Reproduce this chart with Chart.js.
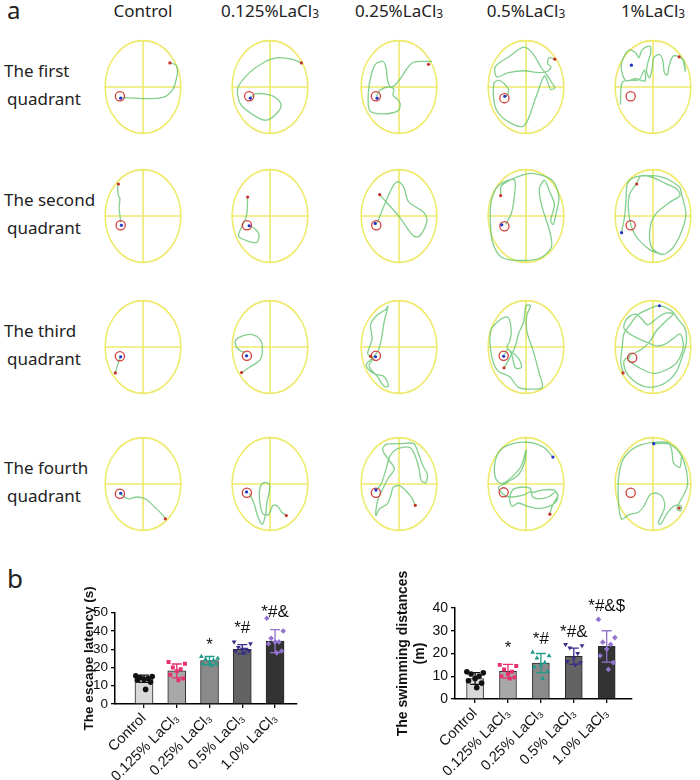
<!DOCTYPE html>
<html>
<head>
<meta charset="utf-8">
<script src="https://cdn.jsdelivr.net/npm/chart.js@4.4.1/dist/chart.umd.min.js"></script>
<style>
  body { margin: 0; background: #fff; width: 700px; height: 780px; position: relative; overflow: hidden;
         font-family: "Noto Sans", "Open Sans", sans-serif; color: #222; }
  .lbl { position: absolute; white-space: nowrap; }
  .hdr { font-size: 17px; line-height: 20px; top: 1px; transform: translateX(-50%); }
  .quad { font-size: 17px; line-height: 28px; left: 4px; }
  .tag { font-size: 24px; line-height: 24px; }
  sub { font-size: 0.7em; vertical-align: -0.08em; }
  canvas { position: absolute; }
</style>
</head>
<body>
<div class="lbl tag" style="left:7px;top:-2px">a</div>
<div class="lbl tag" style="left:7px;top:566px;font-size:26px">b</div>
<script>
// ---------- panel a: swim paths, coordinates in arena units (arena radius = 1) ----------
const doses = ['Control', '0.125%LaCl', '0.25%LaCl', '0.5%LaCl', '1%LaCl'];
const quadrants = ['The first', 'The second', 'The third', 'The fourth'];

const row1Paths = [
  [[0.71,0.52],[0.87,0.47],[0.91,0.31],[0.87,0.14],[0.79,-0.05],[0.55,-0.22],[0.16,-0.25],[-0.24,-0.24],[-0.55,-0.23]],
  [[0.83,0.52],[0.57,0.60],[0.17,0.63],[-0.14,0.54],[-0.54,0.31],[-0.85,-0.02],[-0.77,-0.38],[-0.30,-0.67],[-0.06,-0.71],[0.21,-0.54],[0.29,-0.38],[0.13,-0.22],[-0.14,-0.15],[-0.38,-0.15],[-0.50,-0.22]],
  [[0.87,0.55],[0.41,0.54],[0.25,0.44],[0.06,0.21],[-0.10,0.05],[-0.22,0.0],[-0.30,0.14],[-0.34,0.41],[-0.42,0.55],[-0.61,0.50],[-0.73,0.27],[-0.81,-0.12],[-0.77,-0.51],[-0.42,-0.58],[-0.02,-0.51],[0.03,-0.35],[-0.06,-0.25],[-0.16,-0.18],[-0.14,-0.04],[-0.30,0.0],[-0.50,-0.07],[-0.60,-0.20]],
  [[0.76,0.60],[0.61,0.63],[0.57,0.50],[0.66,0.44],[0.57,0.34],[0.33,0.31],[-0.06,0.35],[-0.46,0.31],[-0.77,0.22],[-0.81,0.44],[-0.42,0.67],[-0.06,0.86],[0.17,0.73],[0.41,0.41],[0.57,0.24],[0.69,0.08],[0.76,-0.02],[0.65,-0.05],[0.49,0.24],[0.25,-0.25],[-0.06,-0.84],[-0.54,-0.71],[-0.81,-0.44],[-0.85,0.08],[-0.69,0.14],[-0.46,-0.05],[-0.50,-0.18],[-0.57,-0.22]],
  [[0.69,0.65],[0.81,0.57],[0.85,0.34],[0.77,0.61],[0.54,0.67],[0.42,0.44],[0.38,0.26],[0.30,0.31],[0.26,0.57],[0.18,0.70],[0.02,0.63],[-0.02,0.41],[-0.09,0.20],[-0.17,0.34],[-0.13,0.54],[-0.06,0.73],[-0.09,0.88],[-0.29,0.80],[-0.37,0.63],[-0.45,0.73],[-0.61,0.80],[-0.76,0.67],[-0.84,0.41],[-0.72,0.14],[-0.45,0.18],[-0.21,0.13],[-0.23,0.37],[-0.37,0.16],[-0.80,0.11],[-0.86,-0.38]]
];
const row2Paths = [
  [[-0.65,0.69],[-0.67,0.61],[-0.65,0.44],[-0.61,0.38],[-0.63,0.18],[-0.61,0.02],[-0.59,-0.14]],
  [[-0.59,0.41],[-0.61,0.05],[-0.67,-0.11],[-0.79,-0.31],[-0.83,-0.44],[-0.59,-0.54],[-0.35,-0.57],[-0.29,-0.41],[-0.39,-0.28],[-0.52,-0.22]],
  [[-0.51,0.46],[0.02,-0.03],[0.37,-0.42],[0.53,-0.44],[0.69,-0.24],[0.74,-0.08],[0.65,0.08],[0.25,0.31],[0.13,0.61],[-0.02,0.74],[-0.14,0.67],[-0.38,0.25],[-0.57,-0.13],[-0.61,-0.18]],
  [[-0.67,0.44],[-0.65,0.65],[-0.43,0.77],[-0.24,0.84],[0.12,0.92],[0.55,0.84],[0.75,0.71],[0.87,0.38],[0.80,0.08],[0.72,-0.18],[0.65,-0.11],[0.75,0.25],[0.63,0.51],[0.49,0.77],[0.35,0.58],[0.43,0.18],[0.63,-0.34],[0.67,-0.67],[0.39,-0.90],[-0.08,-0.96],[-0.63,-0.90],[-0.87,-0.60],[-0.94,-0.14],[-0.91,0.35],[-0.71,0.67],[-0.31,0.78],[-0.31,0.41],[-0.39,0.05],[-0.54,-0.18]],
  [[-0.83,-0.36],[-0.75,-0.01],[-0.71,0.38],[-0.67,0.71],[-0.47,0.84],[-0.08,0.87],[0.24,0.84],[0.51,0.74],[0.71,0.61],[0.75,0.48],[0.87,0.05],[0.75,-0.34],[0.51,-0.70],[0.24,-0.83],[-0.04,-0.67],[-0.08,-0.27],[0.08,0.05],[0.47,0.31],[0.71,0.44],[0.63,0.58],[0.31,0.71],[-0.04,0.84],[-0.31,0.87],[-0.43,0.71],[-0.63,0.44],[-0.63,-0.01],[-0.47,-0.41],[-0.08,-0.73],[0.24,-0.83]]
];
const row3Paths = [
  [[-0.59,-0.21],[-0.67,-0.38],[-0.73,-0.56]],
  [[-0.75,-0.55],[-0.53,-0.43],[-0.26,-0.28],[-0.20,-0.05],[-0.26,0.16],[-0.50,0.27],[-0.76,0.23],[-0.91,0.14],[-0.89,0.01],[-0.79,-0.08],[-0.65,-0.12]],
  [[-0.75,-0.20],[-0.83,-0.14],[-0.71,0.18],[-0.75,0.48],[-0.59,0.68],[-0.35,0.81],[-0.29,0.88],[-0.39,0.55],[-0.47,0.15],[-0.55,-0.08],[-0.71,-0.24],[-0.87,-0.39],[-0.67,-0.57],[-0.39,-0.64],[-0.28,-0.84],[-0.39,-0.85],[-0.57,-0.64],[-0.79,-0.41],[-0.67,-0.24]],
  [[-0.58,-0.45],[-0.43,-0.24],[-0.28,0.02],[-0.20,0.28],[-0.06,0.55],[0.0,0.89],[0.12,0.89],[0.02,0.68],[0.02,0.35],[0.20,-0.11],[0.35,-0.57],[0.43,-0.87],[0.12,-0.91],[-0.20,-0.87],[-0.43,-0.64],[-0.75,-0.51],[-0.91,-0.18],[-0.93,0.35],[-0.67,0.60],[-0.47,0.64],[-0.39,0.35],[-0.43,0.12],[-0.50,-0.01],[-0.20,-0.24],[-0.12,-0.44],[-0.28,-0.45],[-0.37,-0.18],[-0.47,-0.05],[-0.57,-0.16]],
  [[-0.79,-0.56],[-0.85,-0.31],[-0.81,0.02],[-0.77,0.28],[-0.61,0.48],[-0.38,0.71],[-0.06,0.84],[0.17,0.89],[0.49,0.78],[0.65,0.61],[0.84,0.41],[0.88,0.09],[0.76,-0.24],[0.61,-0.54],[0.33,-0.77],[-0.06,-0.87],[-0.38,-0.80],[-0.69,-0.57],[-0.77,-0.31],[-0.61,-0.18],[-0.30,-0.05],[-0.06,0.15],[0.09,0.35],[0.33,0.55],[0.53,0.71],[0.33,0.73],[0.09,0.61],[-0.14,0.48],[-0.30,0.61],[-0.46,0.71],[-0.69,0.61],[-0.77,0.41],[-0.61,0.28],[-0.38,0.18],[-0.02,0.05],[0.09,0.02],[0.29,0.05],[0.53,0.18],[0.72,0.28],[0.80,0.02],[0.65,-0.31],[0.41,-0.47],[0.02,-0.57],[-0.38,-0.44],[-0.65,-0.28],[-0.60,-0.19]]
];
const row4Paths = [
  [[-0.57,-0.23],[-0.39,-0.32],[-0.16,-0.28],[0.08,-0.33],[0.31,-0.50],[0.51,-0.66],[0.59,-0.75]],
  [[-0.55,-0.20],[-0.43,-0.40],[-0.31,-0.73],[-0.20,-0.87],[-0.12,-0.66],[-0.08,-0.40],[-0.02,-0.17],[-0.02,0.0],[-0.16,0.03],[-0.26,-0.07],[-0.28,-0.30],[-0.20,-0.63],[-0.04,-0.66],[0.08,-0.46],[0.20,-0.48],[0.31,-0.61],[0.43,-0.68]],
  [[0.43,-0.46],[0.34,-0.30],[0.16,-0.13],[0.0,-0.03],[-0.16,-0.08],[-0.21,-0.23],[-0.31,-0.43],[-0.51,-0.53],[-0.61,-0.68],[-0.59,-0.46],[-0.53,-0.28],[-0.28,0.13],[-0.12,0.33],[-0.28,0.53],[-0.43,0.73],[-0.35,0.85],[0.04,0.87],[0.39,0.87],[0.51,0.66],[0.63,0.40],[0.75,0.20],[0.71,0.03],[0.59,0.07],[0.53,0.33],[0.43,0.60],[0.28,0.79],[-0.04,0.76],[-0.24,0.60],[-0.35,0.30],[-0.47,0.0],[-0.59,-0.12]],
  [[0.71,0.58],[0.47,0.79],[0.04,0.90],[-0.43,0.85],[-0.71,0.70],[-0.83,0.40],[-0.79,0.10],[-0.63,0.01],[-0.35,0.17],[-0.12,0.40],[0.0,0.73],[-0.04,0.46],[-0.20,0.20],[-0.51,0.03],[-0.73,-0.08],[-0.55,-0.25],[-0.35,-0.28],[-0.04,-0.23],[0.12,-0.17],[0.18,-0.28],[0.31,-0.32],[0.59,-0.28],[0.79,-0.17],[0.83,-0.33],[0.67,-0.46],[0.35,-0.53],[0.04,-0.48],[-0.20,-0.41],[-0.37,-0.48],[-0.43,-0.33],[-0.34,-0.12],[-0.12,-0.07],[0.10,-0.09],[0.17,-0.18],[0.43,-0.13],[0.75,-0.13],[0.84,-0.25],[0.73,-0.41],[0.67,-0.53],[0.63,-0.65]],
  [[0.02,0.87],[0.39,0.87],[0.59,0.78],[0.77,0.58],[0.88,0.30],[0.91,-0.03],[0.80,-0.25],[0.69,-0.41],[0.63,-0.54],[0.73,-0.58],[0.75,-0.48],[0.59,-0.46],[0.39,-0.61],[0.20,-0.87],[0.14,-0.83],[0.30,-0.53],[0.28,-0.33],[0.12,-0.20],[-0.08,-0.23],[-0.24,-0.48],[-0.39,-0.61],[-0.63,-0.66],[-0.83,-0.76],[-0.91,-0.40],[-0.91,0.13],[-0.79,0.53],[-0.47,0.79],[-0.04,0.89],[0.41,0.89],[0.50,0.70],[0.54,0.46],[0.71,0.36],[0.75,0.58]]
];
const allPaths = [row1Paths, row2Paths, row3Paths, row4Paths];

// platform (red ring), start point (red dot) and end point (blue dot) per panel
const targets = [
  [[-0.61,-0.20],[-0.55,-0.20],[-0.61,-0.20],[-0.57,-0.24],[-0.59,-0.20]],
  [[-0.59,-0.20],[-0.61,-0.20],[-0.60,-0.20],[-0.57,-0.22],[-0.59,-0.20]],
  [[-0.61,-0.20],[-0.61,-0.19],[-0.61,-0.19],[-0.59,-0.19],[-0.55,-0.23]],
  [[-0.61,-0.21],[-0.61,-0.19],[-0.61,-0.19],[-0.59,-0.18],[-0.59,-0.19]]
];
const redDots = [
  [[0.71,0.52],[0.83,0.52],[0.78,0.49],[0.76,0.60],[0.69,0.65]],
  [[-0.65,0.69],[-0.59,0.41],[-0.51,0.46],[-0.67,0.44],[-0.43,0.69]],
  [[-0.73,-0.56],[-0.75,-0.55],[-0.75,-0.20],[-0.58,-0.45],[-0.79,-0.56]],
  [[0.59,-0.75],[0.43,-0.68],[0.43,-0.46],[0.63,-0.65],[0.69,-0.52]]
];
const blueDots = [
  [[-0.59,-0.24],[-0.52,-0.24],[-0.58,-0.24],[-0.56,-0.20],[-0.57,0.47]],
  [[-0.57,-0.20],[-0.55,-0.21],[-0.63,-0.16],[-0.64,-0.19],[-0.83,-0.36]],
  [[-0.59,-0.21],[-0.62,-0.19],[-0.62,-0.21],[-0.59,-0.20],[0.17,0.89]],
  [[-0.59,-0.20],[-0.62,-0.17],[-0.61,-0.13],[0.71,0.58],[0.02,0.87]]
];

// ---------- panel b: bar charts ----------
const groups = ['Control', '0.125% LaCl₃', '0.25% LaCl₃', '0.5% LaCl₃', '1.0% LaCl₃'];

const latencyTicks = [0, 10, 20, 30, 40, 50];
const latencyMean = [13.8, 18.1, 23.8, 30.0, 34.4];
const latencySD = [2.0, 3.8, 2.2, 2.5, 6.3];
const latencyPoints = [
  [15.5, 15, 14.5, 14, 13.5, 13, 12, 8],
  [23, 22, 20, 19, 18, 16, 14, 13],
  [26, 25, 24.5, 24, 23, 22, 22, 21],
  [34, 33, 31, 30, 30, 29, 29, 28],
  [47, 40, 36, 34, 34, 33, 29, 28]
];
const latencySig = ['', '', '*', '*#', '*#&'];
const latencySigAt = [0, 0, 32.2, 41.5, 50.4];

const distanceTicks = [0, 10, 20, 30, 40];
const distanceMean = [9.0, 12.2, 15.8, 18.8, 23.1];
const distanceSD = [2.6, 3.0, 4.2, 3.6, 6.9];
const distancePoints = [
  [12, 11.5, 11, 10, 9, 8, 7, 5],
  [15, 14.5, 13, 12, 11, 10, 9.5, 9],
  [20.5, 19, 18, 16, 15, 14, 12, 9],
  [24, 23.5, 22.5, 20, 18, 16.5, 16, 15],
  [35, 27, 25, 24, 22, 19, 16, 13]
];
const distanceSig = ['', '*', '*#', '*#&', '*#&$'];
const distanceSigAt = [0, 22.3, 26.4, 29.1, 40.6];

// ---------- styles ----------
const groupColors = ['#111111', '#e8306e', '#1f9a8c', '#3a2f88', '#9274cf'];
const barColors = ['#d9d9d9', '#a8a8a8', '#8a8a8a', '#636363', '#333333'];
const markers = ['circle', 'rect', 'triangle', 'triangle', 'rectRot'];
const markerRot = [0, 0, 0, 180, 0];
const spread = [-0.25, 0.25, -0.12, 0.12, 0, -0.2, 0.2, 0.05];
const FONT = '"Liberation Sans", Arial, "DejaVu Sans", sans-serif';

Chart.defaults.font.family = FONT;
Chart.defaults.color = '#000';

// headers and row labels
const colX = [143, 270, 399, 526, 653];
const rowY = [87, 216, 347, 484];
doses.forEach((d, i) => {
  const el = document.createElement('div');
  el.className = 'lbl hdr';
  el.style.left = colX[i] + 'px';
  el.innerHTML = i === 0 ? d : d + '<sub>3</sub>';
  document.body.appendChild(el);
});
quadrants.forEach((q, r) => {
  const el = document.createElement('div');
  el.className = 'lbl quad';
  el.style.top = (rowY[r] - 30) + 'px';
  el.innerHTML = q + '<br><span style="padding-left:3px">quadrant</span>';
  document.body.appendChild(el);
});

// water maze arena: yellow ellipse and quadrant cross, radius 1 in data units
const arena = {
  id: 'arena',
  beforeDatasetsDraw(chart) {
    const {ctx, scales: {x, y}} = chart;
    const cx = x.getPixelForValue(0), cy = y.getPixelForValue(0);
    const rx = x.getPixelForValue(1) - cx, ry = cy - y.getPixelForValue(1);
    ctx.save();
    ctx.strokeStyle = '#eeea6c';
    ctx.lineWidth = 1.6;
    ctx.beginPath();
    ctx.ellipse(cx, cy, rx, ry, 0, 0, Math.PI * 2);
    ctx.moveTo(cx - rx, cy); ctx.lineTo(cx + rx, cy);
    ctx.moveTo(cx, cy - ry); ctx.lineTo(cx, cy + ry);
    ctx.stroke();
    ctx.restore();
  }
};

const pt = p => ({x: p[0], y: p[1]});

function arenaChart(r, c) {
  const cv = document.createElement('canvas');
  cv.width = 120; cv.height = 130;
  cv.style.left = (colX[c] - 60) + 'px';
  cv.style.top = (rowY[r] - 65) + 'px';
  document.body.appendChild(cv);
  return new Chart(cv, {
    type: 'scatter',
    data: {
      datasets: [
        { data: [pt(redDots[r][c])], pointRadius: 1.6, backgroundColor: '#c8302a', borderWidth: 0 },
        { data: [pt(blueDots[r][c])], pointRadius: 1.6, backgroundColor: '#2033c4', borderWidth: 0 },
        { data: [pt(targets[r][c])], pointRadius: 4.6, borderWidth: 1.3, borderColor: '#cf3f3a', backgroundColor: 'rgba(0,0,0,0)' },
        { data: allPaths[r][c].map(pt), showLine: true, pointRadius: 0, borderColor: 'rgba(100,195,112,0.8)', borderWidth: 1.3, tension: 0.3 }
      ]
    },
    options: {
      responsive: false,
      animation: false,
      events: [],
      layout: { padding: 0 },
      plugins: { legend: { display: false }, tooltip: { enabled: false } },
      scales: {
        x: { display: false, min: -60 / 42, max: 60 / 42 },
        y: { display: false, min: -65 / 51, max: 65 / 51 }
      }
    },
    plugins: [arena]
  });
}

for (let r = 0; r < 4; r++) for (let c = 0; c < 5; c++) arenaChart(r, c);

// error bars, y tick labels and significance marks
const errorBars = {
  id: 'errorBars',
  afterDatasetDraw(chart, args, opts) {
    if (args.meta.type !== 'bar') return;
    const {ctx, scales: {x, y}} = chart;
    opts.mean.forEach((m, i) => {
      const px = x.getPixelForValue(i);
      const top = y.getPixelForValue(m + opts.sd[i]);
      const bot = y.getPixelForValue(m - opts.sd[i]);
      ctx.save();
      ctx.strokeStyle = groupColors[i];
      ctx.lineWidth = 1.3;
      ctx.beginPath();
      ctx.moveTo(px, top); ctx.lineTo(px, bot);
      ctx.moveTo(px - 5, top); ctx.lineTo(px + 5, top);
      ctx.moveTo(px - 5, bot); ctx.lineTo(px + 5, bot);
      ctx.stroke();
      ctx.restore();
    });
  },
  afterDraw(chart, args, opts) {
    const {ctx, chartArea, scales: {x, y}} = chart;
    ctx.save();
    ctx.fillStyle = '#111';
    ctx.textBaseline = 'middle';
    // tick labels of the value axis, one per entry of the tick list
    ctx.font = opts.yFont + 'px ' + FONT;
    ctx.textAlign = 'right';
    opts.yTicks.forEach(v => ctx.fillText(String(v), chartArea.left - 7, y.getPixelForValue(v)));
    // significance marks
    ctx.font = '17px ' + FONT;
    ctx.textAlign = 'center';
    opts.sig.forEach((s, i) => {
      if (s) ctx.fillText(s, x.getPixelForValue(i), y.getPixelForValue(opts.sigAt[i]));
    });
    ctx.restore();
  }
};

function statChart(box, o) {
  const cv = document.createElement('canvas');
  cv.width = box.w; cv.height = box.h;
  cv.style.left = box.left + 'px';
  cv.style.top = box.top + 'px';
  document.body.appendChild(cv);

  const scatterSets = o.points.map((vals, i) => ({
    type: 'scatter',
    data: vals.map((v, k) => ({x: i + spread[k % spread.length], y: v})),
    pointStyle: markers[i],
    rotation: markerRot[i],
    pointRadius: 2.8,
    backgroundColor: groupColors[i],
    borderColor: groupColors[i],
    borderWidth: 0,
    order: 1
  }));

  return new Chart(cv, {
    type: 'bar',
    data: {
      datasets: [
        ...scatterSets,
        {
          type: 'bar',
          data: o.mean.map((m, i) => ({x: i, y: m})),
          backgroundColor: barColors,
          borderColor: '#2a2a2a',
          borderWidth: 1,
          barThickness: o.barW,
          order: 10
        }
      ]
    },
    options: {
      responsive: false,
      animation: false,
      events: [],
      layout: { padding: o.pad },
      plugins: {
        legend: { display: false },
        tooltip: { enabled: false },
        errorBars: { mean: o.mean, sd: o.sd, sig: o.sig, sigAt: o.sigAt, yTicks: o.yTicks, yFont: o.yFont }
      },
      scales: {
        x: {
          type: 'linear',
          offset: false,
          min: o.xMin, max: o.xMax,
          afterBuildTicks: s => { s.ticks = groups.map((g, i) => ({value: i})); },
          afterFit: s => { s.height = o.xH; },
          ticks: {
            callback: v => groups[v],
            autoSkip: false,
            minRotation: 45, maxRotation: 45,
            font: { size: o.xFont },
            color: '#111',
            padding: 2
          },
          grid: { offset: false, drawOnChartArea: false, drawTicks: true, tickLength: 4, color: '#000', lineWidth: 1.3 },
          border: { color: '#000', width: 1.5 }
        },
        y: {
          type: 'linear',
          min: 0, max: o.yMax,
          afterBuildTicks: s => { s.ticks = o.yTicks.map(v => ({value: v})); },
          afterFit: s => { s.width = o.yW; },
          ticks: { display: false },
          grid: { drawOnChartArea: false, drawTicks: true, tickLength: 4, color: '#000', lineWidth: 1.3 },
          border: { color: '#000', width: 1.5 },
          title: { display: true, text: o.title, font: { size: o.titleFont, weight: 'bold' }, color: '#111', padding: { top: 4, bottom: 4 } }
        }
      }
    },
    plugins: [errorBars]
  });
}

statChart({left: 0, top: 560, w: 345, h: 220}, {
  mean: latencyMean, sd: latencySD, points: latencyPoints, sig: latencySig, sigAt: latencySigAt,
  yMax: 50, yTicks: latencyTicks, title: 'The escape latency (s)', titleFont: 13.5,
  pad: {left: 77, right: 48, top: 52.7, bottom: 0}, yW: 38, xH: 76,
  xMin: -0.885, xMax: 4.67, barW: 18, xFont: 14.5, yFont: 13.5
});

statChart({left: 350, top: 560, w: 350, h: 220}, {
  mean: distanceMean, sd: distanceSD, points: distancePoints, sig: distanceSig, sigAt: distanceSigAt,
  yMax: 40, yTicks: distanceTicks, title: ['The swimming distances', '(m)'], titleFont: 14,
  pad: {left: 40.6, right: 68.3, top: 48, bottom: 0}, yW: 64.4, xH: 81,
  xMin: -0.61, xMax: 4.76, barW: 17, xFont: 14.5, yFont: 14
});
</script>
</body>
</html>
